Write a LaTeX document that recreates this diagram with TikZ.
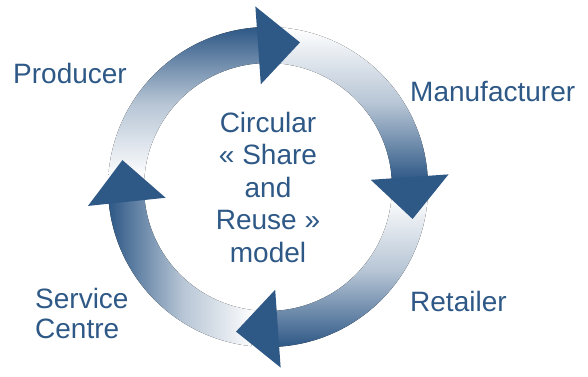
\documentclass[tikz,border=0pt]{standalone}
\usepackage{fontspec}
\setmainfont{Liberation Sans}
\usetikzlibrary{calc}
\definecolor{cblue}{RGB}{46,88,134}
\tikzset{
	lbl/.style={font=\fontsize{28}{30}\selectfont,text=cblue,inner sep=0pt,anchor=base west,align=left},
	mid/.style={font=\fontsize{28}{32.5}\selectfont,text=cblue,inner sep=0pt,anchor=base,align=center},
	head/.style={fill=cblue},
	darktop/.style={top color=cblue,bottom color=white,middle color=cblue!35},
	darkbottom/.style={top color=white,bottom color=cblue,middle color=cblue!35},
	darkleft/.style={left color=cblue,right color=white,middle color=cblue!35}
}

\begin{document}
\begin{tikzpicture}[x=1pt,y=1pt]
\useasboundingbox (0,0) rectangle (588,376);
\coordinate (c) at (268,189);

%archi sfumati
\fill[darktop] ($(c)+(176:160)$) arc[start angle=176,end angle=93,radius=160]
	-- ($(c)+(93:124)$) arc[start angle=93,end angle=176,radius=124] -- cycle;
\fill[darkbottom] ($(c)+(86:160)$) arc[start angle=86,end angle=3,radius=160]
	-- ($(c)+(3:124)$) arc[start angle=3,end angle=86,radius=124] -- cycle;
\fill[darkbottom] ($(c)+(-4:160)$) arc[start angle=-4,end angle=-87,radius=160]
	-- ($(c)+(-87:124)$) arc[start angle=-87,end angle=-4,radius=124] -- cycle;
\fill[darkleft] ($(c)+(264:160)$) arc[start angle=264,end angle=185,radius=160]
	-- ($(c)+(185:124)$) arc[start angle=185,end angle=264,radius=124] -- cycle;

%punte
\fill[head] ($(c)+(94:103)$) -- ($(c)+(94:181)$) -- ($(c)+(94:142)+(4:42)$) -- cycle;
\fill[head] ($(c)+(4:103)$) -- ($(c)+(4:181)$) -- ($(c)+(4:142)+(-86:42)$) -- cycle;
\fill[head] ($(c)+(-86:103)$) -- ($(c)+(-86:181)$) -- ($(c)+(-86:142)+(-176:42)$) -- cycle;
\fill[head] ($(c)+(186:103)$) -- ($(c)+(186:181)$) -- ($(c)+(186:142)+(96:42)$) -- cycle;

%etichette
\node[lbl] (prod) at (13,292.7) {Producer};
\node[lbl] (manu) at (410,274.3) {Manufacturer};
\node[lbl] (ret) at (410,64.3) {Retailer};
\node[lbl] (serv) at (35,38) {Service\\Centre};
\node[mid] (model) at (268,114) {Circular\\« Share\\and\\Reuse »\\model};
\end{tikzpicture}
\end{document}
